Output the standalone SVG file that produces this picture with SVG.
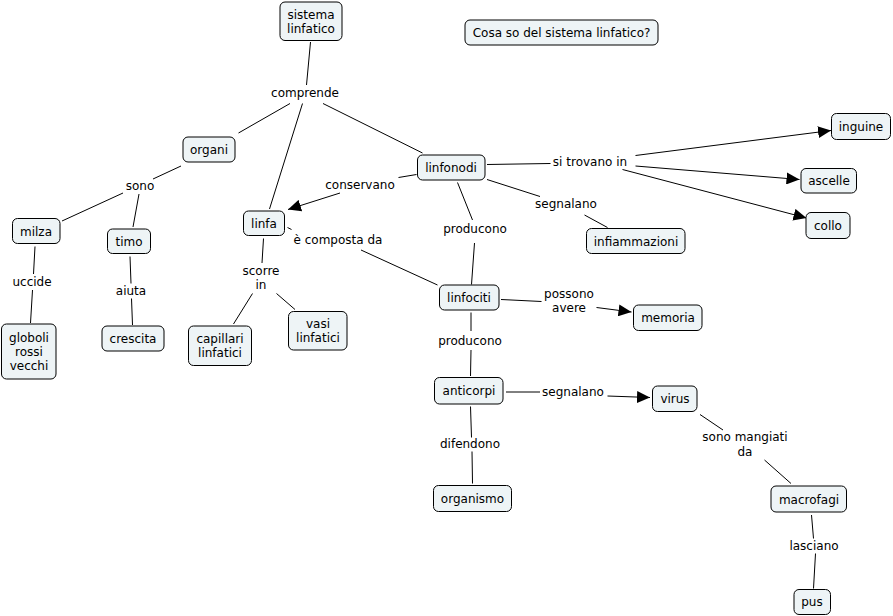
<svg xmlns="http://www.w3.org/2000/svg" width="893" height="616" viewBox="0 0 893 616">
<defs>
<style>
.n rect{fill:#eef4f6;stroke:#000;stroke-width:1;}
text{font-family:"DejaVu Sans","Verdana",sans-serif;font-size:12px;fill:#000;text-anchor:middle;}
.c line{stroke:#000;stroke-width:1;}
.c line.a{marker-end:url(#ah);}
</style>
<marker id="ah" markerUnits="userSpaceOnUse" markerWidth="14" markerHeight="12" viewBox="0 0 14 12" refX="13" refY="6" orient="auto">
<path d="M0,0 L13,6 L0,12 Z" fill="#000"/>
</marker>
</defs>
<rect width="893" height="616" fill="#fff"/>
<g class="c">
<line x1="310.5" y1="42" x2="306.5" y2="85"/>
<line x1="290" y1="103.5" x2="238.5" y2="133"/>
<line x1="302.5" y1="103.5" x2="269.5" y2="209"/>
<line x1="323" y1="103.5" x2="422.5" y2="153"/>
<line x1="181" y1="166" x2="153" y2="179"/>
<line x1="123" y1="193" x2="62" y2="221"/>
<line x1="139" y1="194" x2="133" y2="227"/>
<line x1="416.5" y1="174.5" x2="398.5" y2="177.5"/>
<line class="a" x1="340" y1="193" x2="288" y2="209.5"/>
<line x1="487" y1="164.5" x2="550.5" y2="163.5"/>
<line class="a" x1="635.5" y1="155.5" x2="831" y2="130.5"/>
<line class="a" x1="635.5" y1="166" x2="799.5" y2="179.5"/>
<line class="a" x1="622.5" y1="169.5" x2="806.5" y2="218"/>
<line x1="487" y1="179.5" x2="540" y2="196.5"/>
<line x1="584.5" y1="215" x2="607.5" y2="227.5"/>
<line x1="457.5" y1="182.5" x2="472.5" y2="220"/>
<line x1="474.5" y1="243" x2="471.5" y2="284.5"/>
<line x1="287.5" y1="227.5" x2="291.5" y2="229.5"/>
<line x1="361" y1="250" x2="437.5" y2="285"/>
<line x1="263.5" y1="238.5" x2="262" y2="263"/>
<line x1="252.5" y1="293.5" x2="233.5" y2="324"/>
<line x1="276.5" y1="293.5" x2="295" y2="309.5"/>
<line x1="35" y1="246.5" x2="33.5" y2="274"/>
<line x1="32.5" y1="290" x2="30.5" y2="323"/>
<line x1="130" y1="256.5" x2="131" y2="283.5"/>
<line x1="131.5" y1="298.5" x2="132.5" y2="325"/>
<line x1="501" y1="299.5" x2="541.5" y2="301.5"/>
<line class="a" x1="596.5" y1="307.5" x2="631.5" y2="312"/>
<line x1="471" y1="312.5" x2="471" y2="331"/>
<line x1="471" y1="350" x2="470.5" y2="376"/>
<line x1="506" y1="392" x2="540" y2="392"/>
<line class="a" x1="607.5" y1="396" x2="650" y2="397.5"/>
<line x1="470.5" y1="406.5" x2="471.5" y2="437.5"/>
<line x1="472" y1="451.5" x2="472.5" y2="483.5"/>
<line x1="700" y1="414.5" x2="723" y2="430"/>
<line x1="764.5" y1="460" x2="791" y2="483.5"/>
<line x1="811.5" y1="515" x2="813.5" y2="538.5"/>
<line x1="815.5" y1="553.5" x2="813.5" y2="588.5"/>
</g>
<g class="lbl">
<text x="305" y="97">comprende</text>
<text x="140" y="190">sono</text>
<text x="360" y="189">conservano</text>
<text x="590" y="166">si trovano in</text>
<text x="566" y="208">segnalano</text>
<text x="475" y="233">producono</text>
<text x="32" y="286">uccide</text>
<text x="131" y="295">aiuta</text>
<text x="261" y="275">scorre</text>
<text x="261" y="289">in</text>
<text x="338" y="244">è composta da</text>
<text x="569" y="298">possono</text>
<text x="569" y="312">avere</text>
<text x="470" y="345">producono</text>
<text x="573" y="396">segnalano</text>
<text x="470" y="448">difendono</text>
<text x="745" y="441">sono mangiati</text>
<text x="745" y="456">da</text>
<text x="814" y="550">lasciano</text>
</g>
<g id="sistema_linfatico" class="n"><rect x="280" y="2" width="62" height="38.5" rx="5"/><text x="311" y="19">sistema</text><text x="311" y="33">linfatico</text></g>
<g id="domanda" class="n"><rect x="465" y="20" width="193" height="25" rx="5"/><text x="561.5" y="37">Cosa so del sistema linfatico?</text></g>
<g id="organi" class="n"><rect x="183" y="137" width="52" height="25" rx="5"/><text x="209" y="154">organi</text></g>
<g id="linfonodi" class="n"><rect x="417.5" y="155" width="67.5" height="25" rx="5"/><text x="451" y="172">linfonodi</text></g>
<g id="inguine" class="n"><rect x="831.5" y="113.5" width="59" height="26" rx="5"/><text x="861" y="131">inguine</text></g>
<g id="ascelle" class="n"><rect x="801" y="168.5" width="55.5" height="24.5" rx="5"/><text x="829" y="185">ascelle</text></g>
<g id="collo" class="n"><rect x="806" y="212.5" width="44" height="26" rx="5"/><text x="828" y="230">collo</text></g>
<g id="milza" class="n"><rect x="12.5" y="218.5" width="47.5" height="25" rx="5"/><text x="36" y="235.5">milza</text></g>
<g id="timo" class="n"><rect x="107.5" y="229" width="43" height="24.5" rx="5"/><text x="129" y="246">timo</text></g>
<g id="linfa" class="n"><rect x="243.5" y="211" width="41" height="24.5" rx="5"/><text x="264" y="228">linfa</text></g>
<g id="infiammazioni" class="n"><rect x="586.5" y="228.5" width="98.5" height="25" rx="5"/><text x="636" y="245.5">infiammazioni</text></g>
<g id="linfociti" class="n"><rect x="439.5" y="285" width="59.5" height="25" rx="5"/><text x="469" y="302">linfociti</text></g>
<g id="memoria" class="n"><rect x="633.5" y="305" width="68.5" height="25.5" rx="5"/><text x="668" y="322">memoria</text></g>
<g id="globoli_rossi_vecchi" class="n"><rect x="1.5" y="324" width="54.5" height="55" rx="5"/><text x="29" y="342">globoli</text><text x="29" y="356">rossi</text><text x="29" y="370">vecchi</text></g>
<g id="crescita" class="n"><rect x="102" y="326" width="62" height="25" rx="5"/><text x="133" y="343">crescita</text></g>
<g id="capillari_linfatici" class="n"><rect x="188.5" y="326" width="63" height="39.5" rx="5"/><text x="220" y="343">capillari</text><text x="220" y="357">linfatici</text></g>
<g id="vasi_linfatici" class="n"><rect x="288.5" y="311.5" width="58.5" height="38.5" rx="5"/><text x="318" y="328">vasi</text><text x="318" y="342">linfatici</text></g>
<g id="anticorpi" class="n"><rect x="434.5" y="377.5" width="68.5" height="26.5" rx="5"/><text x="469" y="395">anticorpi</text></g>
<g id="virus" class="n"><rect x="652.5" y="386" width="44.5" height="25.5" rx="5"/><text x="675" y="403">virus</text></g>
<g id="organismo" class="n"><rect x="433.5" y="485.5" width="78" height="26" rx="5"/><text x="472.5" y="503">organismo</text></g>
<g id="macrofagi" class="n"><rect x="771" y="486" width="75.5" height="26" rx="5"/><text x="809" y="503.5">macrofagi</text></g>
<g id="pus" class="n"><rect x="794" y="589.5" width="36.5" height="25" rx="5"/><text x="812" y="606">pus</text></g>
</svg>
